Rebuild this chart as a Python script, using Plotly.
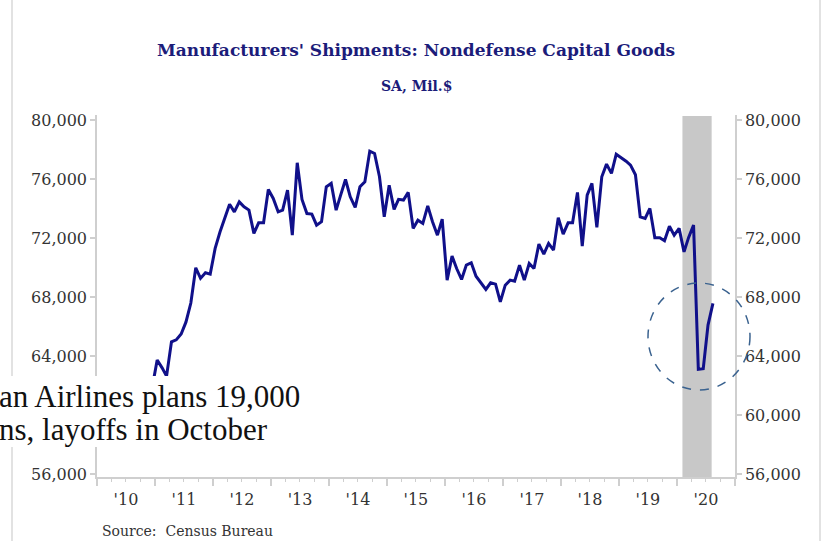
import pandas as pd
import plotly.graph_objects as go

# ---- data (monthly, Jan 2010 .. Jul 2020), millions of $ SA ----
start_month = "2010-01-15"
shipments = [
    58400, 58900, 59600, 59300, 60100, 60500, 60300, 60900, 61300, 61000, 61900, 63730,
    63200, 62640, 64970, 65100, 65500, 66300, 67600, 69990, 69270, 69650, 69560, 71300,
    72430, 73370, 74300, 73780, 74460, 74120, 73900, 72320, 73040, 73040, 75300, 74690,
    73780, 73900, 75250, 72200, 77110, 74620, 73670, 73630, 72880, 73110, 75480, 75710,
    73900, 74900, 75980, 74800, 74080, 75480, 75820, 77900, 77740, 76160, 73440, 75590,
    73950, 74630, 74580, 75100, 72660, 73220, 73000, 74190, 73110, 72200, 73290, 69150,
    70780, 69940, 69200, 70170, 70330, 69420, 68970, 68520, 68970, 68880, 67680, 68810,
    69150, 69080, 70170, 69150, 70280, 69940, 71590, 70920, 71640, 71190, 73380, 72270,
    73040, 73040, 75100, 71460, 74920, 75710, 72730, 76160, 77020, 76390, 77690, 77470,
    77220, 76950, 76300, 73440, 73330, 74010, 72020, 72020, 71820, 72810, 72200, 72660,
    71070, 72050, 72880, 63100, 63150, 66100, 67570,
]
dates = pd.date_range(start_month, periods=len(shipments), freq="MS") + pd.Timedelta(days=14)

recession_start = "2020-02-05"
recession_end = "2020-08-07"
y_ticks = [56000, 60000, 64000, 68000, 72000, 76000, 80000]
y_labels_right = ["56,000", "60,000", "64,000", "68,000", "72,000", "76,000", "80,000"]
y_labels_left = ["56,000", "", "64,000", "68,000", "72,000", "76,000", "80,000"]  # 60,000 hidden by overlay
y_range = [55800, 80350]
x_range = ["2010-01-01", "2021-01-01"]

title = "Manufacturers' Shipments: Nondefense Capital Goods"
subtitle = "SA, Mil.$"
source = "Source:  Census Bureau"
overlay_lines = ["an Airlines plans 19,000", "ns, layoffs in October"]

# ---- layout helpers (pixel -> paper) ----
L, R, T, B = 97, 735, 115, 477
def px(x):
    return (x - L) / (R - L)
def py(y):
    return (B - y) / (B - T)

NAVY = "#10108a"
AXIS = "#cfcfcf"
TXT = "#333333"
SERIF = "DejaVu Serif"

fig = go.Figure()
fig.add_trace(go.Scatter(x=dates, y=shipments, mode="lines",
                         line=dict(color=NAVY, width=3), showlegend=False,
                         hoverinfo="skip"))
fig.add_trace(go.Scatter(x=dates, y=shipments, mode="lines", yaxis="y2",
                         line=dict(color="rgba(0,0,0,0)", width=0), showlegend=False,
                         hoverinfo="skip"))

axis_common = dict(range=y_range, tickvals=y_ticks,
                   showgrid=False, zeroline=False, showline=True,
                   linecolor=AXIS, linewidth=1.5, ticks="outside", ticklen=5,
                   tickcolor=AXIS, tickwidth=1.5,
                   tickfont=dict(family=SERIF, size=16, color=TXT))

fig.update_layout(
    width=825, height=541,
    margin=dict(l=L, r=825 - R, t=T, b=541 - B),
    paper_bgcolor="white", plot_bgcolor="white",
    xaxis=dict(type="date", range=x_range, dtick="M12", tick0="2010-01-01",
               tickformat="'%y", ticklabelmode="period",
               showgrid=False, zeroline=False, showline=True,
               linecolor=AXIS, linewidth=1.5, ticks="outside", ticklen=7,
               tickcolor=AXIS, tickwidth=1.5,
               minor=dict(dtick="M3", tick0="2010-01-01", ticks="outside",
                          ticklen=3, tickcolor=AXIS, tickwidth=1),
               tickfont=dict(family=SERIF, size=16, color=TXT)),
    yaxis=dict(side="left", ticktext=y_labels_left, **axis_common),
    yaxis2=dict(side="right", overlaying="y", ticktext=y_labels_right, **axis_common),
    shapes=[
        dict(type="rect", xref="x", yref="paper", x0=recession_start, x1=recession_end,
             y0=0, y1=py(116), fillcolor="#c8c8c8", line=dict(width=0), layer="below"),
        dict(type="circle", xref="paper", yref="paper", x0=px(648), x1=px(750),
             y0=py(390), y1=py(283), line=dict(color="#3a628f", width=1.5, dash="dash")),
        dict(type="line", xref="paper", yref="paper", x0=px(12), x1=px(12),
             y0=py(545), y1=py(-5), line=dict(color="#d9d9d9", width=1.5)),
        dict(type="line", xref="paper", yref="paper", x0=px(820), x1=px(820),
             y0=py(545), y1=py(-5), line=dict(color="#d9d9d9", width=1.5)),
        dict(type="rect", xref="paper", yref="paper", x0=px(-10), x1=px(312),
             y0=py(447), y1=py(376), fillcolor="white", line=dict(width=0), layer="above"),
    ],
    annotations=[
        dict(text=title, xref="paper", yref="paper", x=px(416), y=py(50),
             xanchor="center", yanchor="middle", showarrow=False,
             font=dict(family=SERIF, size=17, color="#1c1c7a", weight="bold")),
        dict(text=subtitle, xref="paper", yref="paper", x=px(416), y=py(86),
             xanchor="center", yanchor="middle", showarrow=False,
             font=dict(family=SERIF, size=14, color="#1c1c7a", weight="bold")),
        dict(text=source, xref="paper", yref="paper", x=px(100), y=py(531),
             xanchor="left", yanchor="middle", showarrow=False,
             font=dict(family=SERIF, size=14, color=TXT)),
        dict(text=overlay_lines[0], xref="paper", yref="paper", x=px(-3), y=py(396),
             xanchor="left", yanchor="middle", showarrow=False, align="left",
             font=dict(family="Liberation Serif", size=31, color="#111111")),
        dict(text=overlay_lines[1], xref="paper", yref="paper", x=px(-3), y=py(429),
             xanchor="left", yanchor="middle", showarrow=False, align="left",
             font=dict(family="Liberation Serif", size=31, color="#111111")),
    ],
)

fig.write_html("out.html")
